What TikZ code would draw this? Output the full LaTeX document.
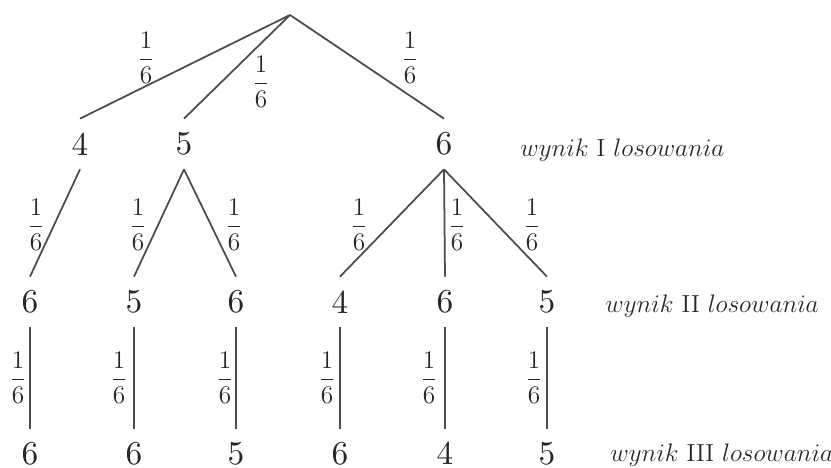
\documentclass[tikz,border=0pt]{standalone}
\usepackage{amsmath}
\usepackage{fontspec}
\usepackage{tikz}
\newfontfamily\numfont{lmroman10-regular.otf}
\tikzset{num/.style = {inner sep = 0, minimum height = 1cm, font = \numfont\fontsize{19}{23}\selectfont, text = black!85}}
\tikzset{lastnum/.style = {num, minimum height = 0, text height = 0.715cm, text depth = 0pt, anchor = base}}
\tikzset{prob/.style = {inner sep = 0, font = \fontsize{14}{17}\selectfont, text = black!85}}
\tikzset{wynik/.style = {anchor = base west, inner sep = 0, font = \fontsize{14}{17}\selectfont, text = black!85}}
\tikzset{branch/.style = {draw = black!70, line width = 1pt}}

\begin{document}
\begin{tikzpicture}
      \useasboundingbox (0, 0) rectangle (16.62, 9.36);

      \coordinate (root) at (5.8, 9.06);

      \node [num] (a4) at (1.6, 6.48) {4};
      \node [num] (a5) at (3.68, 6.48) {5};
      \node [num] (a6) at (8.88, 6.48) {6};

      \node [num] (b1) at (0.6, 3.32) {6};
      \node [num] (b2) at (2.68, 3.32) {5};
      \node [num] (b3) at (4.72, 3.32) {6};
      \node [num] (b4) at (6.8, 3.32) {4};
      \node [num] (b5) at (8.9, 3.32) {6};
      \node [num] (b6) at (10.94, 3.32) {5};

      \node [lastnum] (c1) at (0.6, 0.06) {6};
      \node [lastnum] (c2) at (2.68, 0.06) {6};
      \node [lastnum] (c3) at (4.72, 0.06) {5};
      \node [lastnum] (c4) at (6.8, 0.06) {6};
      \node [lastnum] (c5) at (8.9, 0.06) {4};
      \node [lastnum] (c6) at (10.94, 0.06) {5};

      \draw [branch] (root) -- (a4.north);
      \draw [branch] (root) -- (a5.north);
      \draw [branch] (root) -- (a6.north);

      \draw [branch] (a4.south) -- (b1.north);
      \draw [branch] (a5.south) -- (b2.north);
      \draw [branch] (a5.south) -- (b3.north);
      \draw [branch] (a6.south) -- (b4.north);
      \draw [branch] (a6.south) -- (b5.north);
      \draw [branch] (a6.south) -- (b6.north);

      \draw [branch] (b1.south) -- (c1.north);
      \draw [branch] (b2.south) -- (c2.north);
      \draw [branch] (b3.south) -- (c3.north);
      \draw [branch] (b4.south) -- (c4.north);
      \draw [branch] (b5.south) -- (c5.north);
      \draw [branch] (b6.south) -- (c6.north);

      \node [prob] (pa4) at (2.92, 8.2) {$\dfrac{1}{6}$};
      \node [prob] (pa5) at (5.22, 7.72) {$\dfrac{1}{6}$};
      \node [prob] (pa6) at (8.2, 8.2) {$\dfrac{1}{6}$};

      \node [prob] (pb1) at (0.72, 4.86) {$\dfrac{1}{6}$};
      \node [prob] (pb2) at (2.76, 4.86) {$\dfrac{1}{6}$};
      \node [prob] (pb3) at (4.68, 4.86) {$\dfrac{1}{6}$};
      \node [prob] (pb4) at (7.18, 4.86) {$\dfrac{1}{6}$};
      \node [prob] (pb5) at (9.14, 4.86) {$\dfrac{1}{6}$};
      \node [prob] (pb6) at (10.64, 4.86) {$\dfrac{1}{6}$};

      \node [prob] (pc1) at (0.36, 1.8) {$\dfrac{1}{6}$};
      \node [prob] (pc2) at (2.38, 1.8) {$\dfrac{1}{6}$};
      \node [prob] (pc3) at (4.5, 1.8) {$\dfrac{1}{6}$};
      \node [prob] (pc4) at (6.54, 1.8) {$\dfrac{1}{6}$};
      \node [prob] (pc5) at (8.58, 1.8) {$\dfrac{1}{6}$};
      \node [prob] (pc6) at (10.68, 1.8) {$\dfrac{1}{6}$};

      \node [wynik] (w1) at (10.4, 6.22) {$wynik$ I $losowania$};
      \node [wynik] (w2) at (12.1, 3.1) {$wynik$ II $losowania$};
      \node [wynik] (w3) at (12.2, 0.12) {$wynik$ III $losowania$};
    \end{tikzpicture}
\end{document}
